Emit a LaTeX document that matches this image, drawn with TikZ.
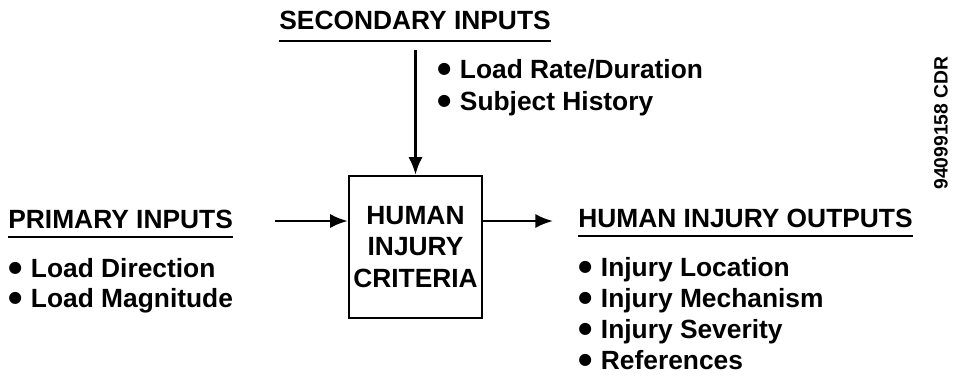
\documentclass[tikz,border=0pt]{standalone}
\usepackage{fontspec}
\setmainfont{Liberation Sans}
\newfontfamily\dejavu{DejaVu Sans}
\newcommand\bul{{\dejavu\fontsize{9}{12}\selectfont\raisebox{2.4pt}{●}}\hspace{5pt}}
\usetikzlibrary{arrows.meta}
\begin{document}
\begin{tikzpicture}[x=0.02cm,y=-0.02cm,
  txt/.style={font=\bfseries\fontsize{15}{18}\selectfont, inner sep=0pt},
  head/.style={txt, anchor=base west},
  item/.style={txt, anchor=base west},
  arr/.style={line width=1.4pt, -{Latex[length=10pt,width=8pt]}},
  ul/.style={line width=1.2pt}]
\useasboundingbox (0,0) rectangle (963,380);
% central box
\node[draw, line width=1.4pt, minimum width=133*0.02cm, minimum height=142*0.02cm, inner sep=0pt,
  align=center, font=\bfseries\fontsize{15}{18}\selectfont] (box) at (415.5,247)
  {HUMAN\\[0pt]INJURY\\[0pt]CRITERIA};
% secondary inputs
\node[head] (sec) at (279,29) {SECONDARY INPUTS};
\draw[ul] (sec.south west) ++(0,-6.5pt) coordinate (s1) -- (s1 -| sec.east);
\coordinate (sectop) at (415.5,50);
\draw[arr] (sectop) -- (box.north);
\node[item] (s1i) at (437,78) {\bul Load Rate/Duration};
\node[item] (s2i) at (437,110) {\bul Subject History};
% primary inputs
\node[head] (pri) at (8,228) {PRIMARY INPUTS};
\draw[ul] (pri.south west) ++(0,-5pt) coordinate (p1) -- (p1 -| pri.east);
\node[item] (p1i) at (8,277) {\bul Load Direction};
\node[item] (p2i) at (8,307) {\bul Load Magnitude};
\coordinate (pstart) at (275,221);
\draw[arr] (pstart) -- (pstart -| box.west);
% outputs
\node[head] (out) at (578,227) {HUMAN INJURY OUTPUTS};
\draw[ul] (out.south west) ++(0,-5pt) coordinate (o1) -- (o1 -| out.east);
\coordinate (oend) at (553,221);
\draw[arr] (oend -| box.east) -- (oend);
\node[item] (o1i) at (578,276) {\bul Injury Location};
\node[item] (o2i) at (578,307) {\bul Injury Mechanism};
\node[item] (o3i) at (578,338) {\bul Injury Severity};
\node[item] (o4i) at (578,369) {\bul References};
% side code
\node[txt, font=\bfseries\fontsize{11}{13}\selectfont, rotate=90] (code) at (941,123) {94099158 CDR};
\end{tikzpicture}
\end{document}
